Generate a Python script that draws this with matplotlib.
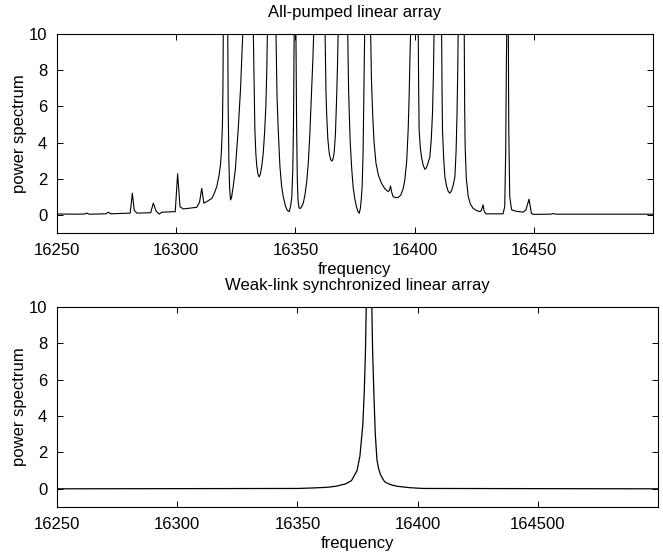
import numpy as np
import matplotlib
matplotlib.use("Agg")
import matplotlib.pyplot as plt

plt.rcParams['font.family'] = ['Liberation Sans', 'DejaVu Sans']
plt.rcParams['font.size'] = 12

# top panel (values above 10 are clipped by the axes)
top_freq = [16250.0, 16258.0, 16261.5, 16262.5, 16263.5, 16270.5, 16271.5, 16272.5,
            16280.7, 16281.6, 16282.4, 16283.5, 16289.3, 16290.4, 16291.6, 16292.9,
            16294.0, 16299.6, 16300.6, 16301.6, 16303.0, 16308.6, 16309.8, 16310.7,
            16311.6, 16313.0, 16315.0, 16316.0, 16317.0, 16318.0, 16318.6, 16319.0,
            16319.4, 16319.6, 16319.8,
            16320.7,
            16321.6, 16321.8, 16322.1, 16322.4, 16322.8, 16323.2, 16323.9, 16324.8,
            16326.0, 16327.0, 16327.6, 16328.1,
            16330.2,
            16332.3, 16332.7, 16333.0, 16333.4, 16333.8, 16334.3, 16334.8, 16335.3,
            16335.9, 16336.5, 16337.1, 16337.6, 16338.0, 16338.3,
            16340.1,
            16341.8, 16342.3, 16342.8, 16343.5, 16344.2, 16344.9, 16345.8, 16346.6,
            16347.4, 16348.0, 16348.5, 16348.9, 16349.2, 16349.5,
            16349.9,
            16350.2, 16350.5, 16350.8, 16351.1, 16351.5, 16352.0, 16352.6, 16353.3,
            16354.0, 16354.8, 16355.4, 16356.0, 16356.7, 16357.3, 16357.8,
            16360.1,
            16362.4, 16362.8, 16363.1, 16363.6, 16364.2, 16364.8, 16365.4, 16365.9,
            16366.3, 16366.8, 16367.3, 16367.7, 16368.0,
            16369.9,
            16371.9, 16372.3, 16372.6, 16373.0, 16373.6, 16374.2, 16374.9, 16375.6,
            16376.2, 16376.8, 16377.3, 16377.7, 16378.0, 16378.4, 16378.7, 16379.1,
            16380.3,
            16381.5, 16381.9, 16382.4, 16383.0, 16383.8, 16384.8, 16386.1, 16387.5,
            16388.9, 16389.4, 16389.9, 16390.4, 16391.0, 16392.0, 16393.1, 16394.2,
            16395.2, 16395.9, 16396.7, 16397.3, 16397.7, 16398.0, 16398.4,
            16400.0,
            16401.5, 16401.7, 16401.9, 16402.4, 16402.9, 16403.6, 16404.3, 16404.9,
            16405.6, 16406.4, 16407.0, 16407.5, 16407.9, 16408.2,
            16409.8,
            16411.3, 16411.5, 16411.7, 16412.2, 16412.7, 16413.4, 16414.1, 16414.8,
            16415.5, 16416.2, 16416.9, 16417.4, 16417.8, 16418.1, 16418.3,
            16419.5,
            16420.8, 16421.0, 16421.2, 16421.7, 16422.5, 16423.4, 16424.5, 16425.8,
            16427.4, 16428.0, 16428.7, 16429.2, 16429.9, 16437.1, 16437.8, 16438.2,
            16438.5, 16438.7,
            16439.1,
            16439.3, 16439.5, 16439.9, 16440.7, 16442.7, 16445.5, 16446.7, 16448.0,
            16449.0, 16449.7, 16457.0, 16458.1, 16459.5, 16500.0]
top_power = [0.05, 0.04, 0.05, 0.10, 0.04, 0.06, 0.15, 0.06,
             0.10, 1.20, 0.25, 0.10, 0.12, 0.65, 0.20, 0.05,
             0.15, 0.18, 2.27, 0.45, 0.33, 0.42, 0.70, 1.47,
             0.65, 0.75, 0.92, 1.20, 1.56, 2.20, 2.80, 3.6,
             5.0, 7.0, 10.5,
             40,
             10.5, 6.0, 3.0, 1.5, 0.83, 0.95, 1.56, 2.5,
             4.7, 7.0, 9.0, 10.5,
             40,
             10.5, 7.0, 4.7, 3.4, 2.7, 2.25, 2.10, 2.25,
             2.7, 3.4, 4.6, 6.0, 8.0, 10.5,
             40,
             10.5, 6.5, 4.7, 2.7, 1.6, 1.01, 0.5, 0.25,
             0.18, 0.5, 1.0, 2.5, 5.0, 10.5,
             40,
             10.5, 5.0, 2.0, 0.8, 0.4, 0.35, 0.45, 0.65,
             1.1, 1.9, 2.86, 4.3, 6.5, 8.5, 10.5,
             40,
             10.5, 7.0, 5.6, 4.2, 3.4, 3.05, 2.98, 3.15,
             3.5, 4.5, 6.5, 8.5, 10.5,
             40,
             10.5, 7.0, 5.6, 4.0, 2.6, 1.56, 0.9, 0.45,
             0.2, 0.09, 0.4, 1.0, 1.56, 3.5, 6.5, 10.5,
             40,
             10.5, 7.5, 5.6, 4.0, 2.86, 2.2, 1.75, 1.45,
             1.29, 1.35, 1.60, 1.25, 1.01, 0.96, 0.96, 1.1,
             1.45, 1.93, 3.0, 4.7, 6.5, 8.4, 10.5,
             40,
             10.5, 7.0, 4.7, 3.7, 3.2, 2.75, 2.52, 2.6,
             2.85, 3.2, 4.2, 5.6, 7.8, 10.5,
             40,
             10.5, 7.0, 4.7, 3.1, 2.10, 1.6, 1.3, 1.20,
             1.35, 1.65, 2.10, 3.5, 5.6, 8.0, 10.5,
             40,
             10.5, 6.0, 3.77, 2.0, 1.01, 0.6, 0.37, 0.25,
             0.18, 0.25, 0.55, 0.2, 0.06, 0.06, 0.46, 3.4,
             8.4, 10.5,
             40,
             10.5, 4.7, 1.01, 0.28, 0.20, 0.15, 0.28, 0.87,
             0.09, 0.03, 0.04, 0.07, 0.04, 0.04]

# bottom panel
bot_freq = [16250.0, 16350.0, 16355.0, 16362.0, 16366.0, 16370.0, 16372.5, 16374.8,
            16376.0, 16377.2, 16377.8, 16378.3, 16378.7, 16379.8, 16380.9, 16381.3,
            16381.8, 16382.4, 16383.1, 16383.8, 16384.5, 16385.5, 16386.3, 16388.0,
            16389.5, 16391.5, 16393.4, 16397.0, 16402.3, 16500.0]
bot_power = [0.0, 0.02, 0.04, 0.08, 0.14, 0.27, 0.45, 1.0,
             1.8, 3.5, 5.3, 7.5, 10.5, 40, 10.5, 7.5,
             5.3, 3.0, 1.58, 1.1, 0.8, 0.55, 0.39, 0.27,
             0.2, 0.14, 0.11, 0.06, 0.02, 0.0]

xticks = [16250, 16300, 16350, 16400, 16450]
top_xlabels = ['16250', '16300', '16350', '16400', '16450']
bot_xlabels = ['16250', '16300', '16350', '16400', '164500']
yticks = [0, 2, 4, 6, 8, 10]

fig = plt.figure(figsize=(6.63, 5.54), dpi=100)
ax1 = fig.add_axes([57/663, 1-233/554, 596/663, 199/554])
ax2 = fig.add_axes([57/663, 1-507/554, 601/663, 200/554])


def style(ax, labels, title):
    ax.set_xlim(16250, 16500)
    ax.set_ylim(-1, 10)
    ax.set_xticks(xticks)
    ax.set_xticklabels(labels)
    ax.set_yticks(yticks)
    ax.tick_params(direction='in', length=4, width=0.7, top=True, right=True, pad=7)
    for s in ax.spines.values():
        s.set_linewidth(0.8)
    ax.set_xlabel('frequency', labelpad=3)
    ax.set_ylabel('power spectrum', labelpad=1)
    ax.set_title(title, fontsize=12, pad=12)


ax1.plot(top_freq, top_power, 'k', linewidth=0.8)
style(ax1, top_xlabels, 'All-pumped linear array')
ax2.plot(bot_freq, bot_power, 'k', linewidth=0.9)
style(ax2, bot_xlabels, 'Weak-link synchronized linear array')

fig.savefig('out.png', dpi=100)
